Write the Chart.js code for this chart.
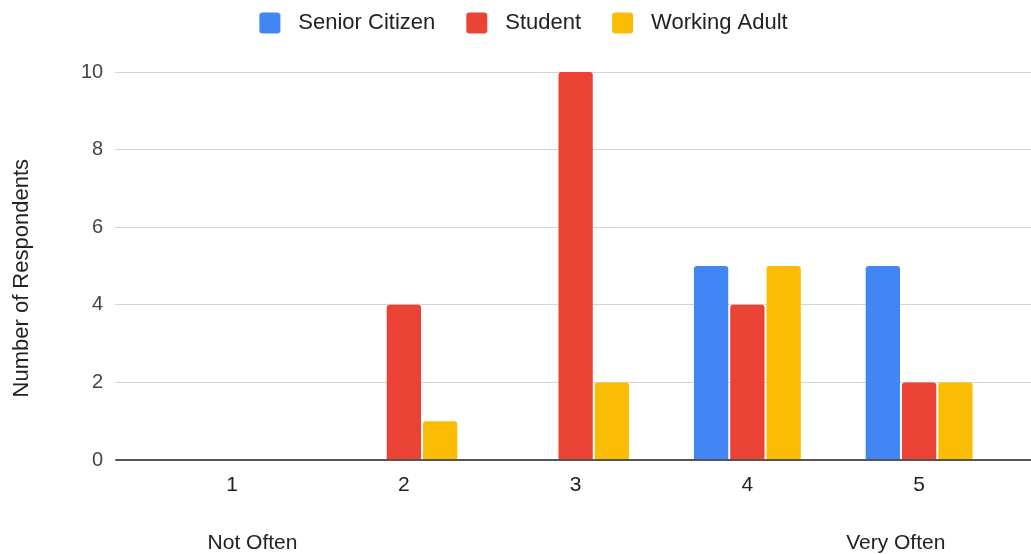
<!DOCTYPE html>
<html>
<head>
<meta charset="utf-8">
<script src="https://cdn.jsdelivr.net/npm/chart.js@4.4.1/dist/chart.umd.min.js"></script>
<style>
  html, body { margin: 0; padding: 0; background: #ffffff; }
  #wrap { width: 1031px; height: 554px; position: relative; }
</style>
</head>
<body>
<div id="wrap"><canvas id="chart"></canvas></div>
<script>
// Frequency rating (1 = not often, 5 = very often) by respondent group
const categories = ['1', '2', '3', '4', '5'];
const scaleEnds = ['Not Often', '', '', '', 'Very Often'];
const seriesNames = ['Senior Citizen', 'Student', 'Working Adult'];
const seniorCitizen = [0, 0, 0, 5, 5];
const student = [0, 4, 10, 4, 2];
const workingAdult = [0, 1, 2, 5, 2];
const yTicks = [0, 2, 4, 6, 8, 10];
const seriesColors = ['#4285F4', '#EA4335', '#FBBC04'];

const FONT = '"Liberation Sans", Arial, sans-serif';

// x labels: rating number, with the scale end wording two lines below it,
// nudged inward toward the middle of the axis
const xLabels = categories.map((c, i) => {
  if (!scaleEnds[i]) return c;
  const end = i === 0 ? ' '.repeat(7) + scaleEnds[i] : scaleEnds[i] + ' '.repeat(8);
  return [c, '', end];
});

// Legend swatch: rounded square placed inside a wider transparent strip
const SW_W = 44, SW_OFF = 16, SW_BOX = 21;
function swatch(color) {
  const cv = document.createElement('canvas');
  cv.width = SW_W; cv.height = 22;
  const g = cv.getContext('2d');
  g.fillStyle = color;
  g.beginPath();
  g.roundRect(SW_OFF, 0.5, SW_BOX, SW_BOX, 3);
  g.fill();
  return cv;
}
const swatches = seriesColors.map(swatch);

const gridColor = ctx => (ctx.tick && ctx.tick.value === 0) ? '#555555' : '#d4d4d4';
const gridWidth = ctx => (ctx.tick && ctx.tick.value === 0) ? 2 : 1;
const setTicks = scale => { scale.ticks = yTicks.map(v => ({ value: v })); };

// extra room between legend and plot
const legendGap = {
  id: 'legendGap',
  beforeInit(chart) {
    const fit = chart.legend.fit;
    chart.legend.fit = function () { fit.call(this); this.height += 28; };
  }
};

new Chart(document.getElementById('chart'), {
  type: 'bar',
  data: {
    labels: xLabels,
    datasets: [
      { label: seriesNames[0], data: seniorCitizen, backgroundColor: seriesColors[0] },
      { label: seriesNames[1], data: student, backgroundColor: seriesColors[1] },
      { label: seriesNames[2], data: workingAdult, backgroundColor: seriesColors[2] }
    ]
  },
  options: {
    responsive: true,
    maintainAspectRatio: false,
    animation: false,
    layout: { padding: { top: -3, bottom: -15, left: 0, right: 0 } },
    datasets: {
      bar: {
        categoryPercentage: 0.634,
        barPercentage: 0.945,
        borderRadius: { topLeft: 3, topRight: 3, bottomLeft: 0, bottomRight: 0 },
        borderSkipped: 'start'
      }
    },
    plugins: {
      legend: {
        position: 'top',
        align: 'center',
        labels: {
          font: { family: FONT, size: 22 },
          color: '#222222',
          usePointStyle: true,
          pointStyleWidth: SW_W,
          padding: 15,
          generateLabels(c) {
            const items = Chart.defaults.plugins.legend.labels.generateLabels(c);
            items.forEach((it, i) => { it.pointStyle = swatches[i]; });
            return items;
          }
        }
      },
      tooltip: { enabled: false }
    },
    scales: {
      x: {
        grid: { display: false, drawTicks: false },
        border: { display: false },
        ticks: {
          font: { family: FONT, size: 21, lineHeight: '29px' },
          color: '#222222',
          padding: 11,
          maxRotation: 0,
          autoSkip: false
        }
      },
      y: {
        position: 'left',
        min: 0,
        max: 10,
        afterBuildTicks: setTicks,
        border: { display: false },
        grid: { color: gridColor, lineWidth: gridWidth, tickLength: 31, drawTicks: true },
        ticks: {
          font: { family: FONT, size: 20 },
          color: '#444444',
          padding: 12
        },
        title: {
          display: true,
          text: 'Number of Respondents    ',
          font: { family: FONT, size: 22 },
          color: '#222222',
          padding: { top: 9, bottom: 33.6 }
        }
      },
      y2: {
        position: 'right',
        min: 0,
        max: 10,
        afterBuildTicks: setTicks,
        border: { display: false },
        grid: { color: gridColor, lineWidth: gridWidth, tickLength: 26, drawOnChartArea: false, drawTicks: true },
        ticks: { display: false }
      }
    }
  },
  plugins: [legendGap]
});
</script>
</body>
</html>
